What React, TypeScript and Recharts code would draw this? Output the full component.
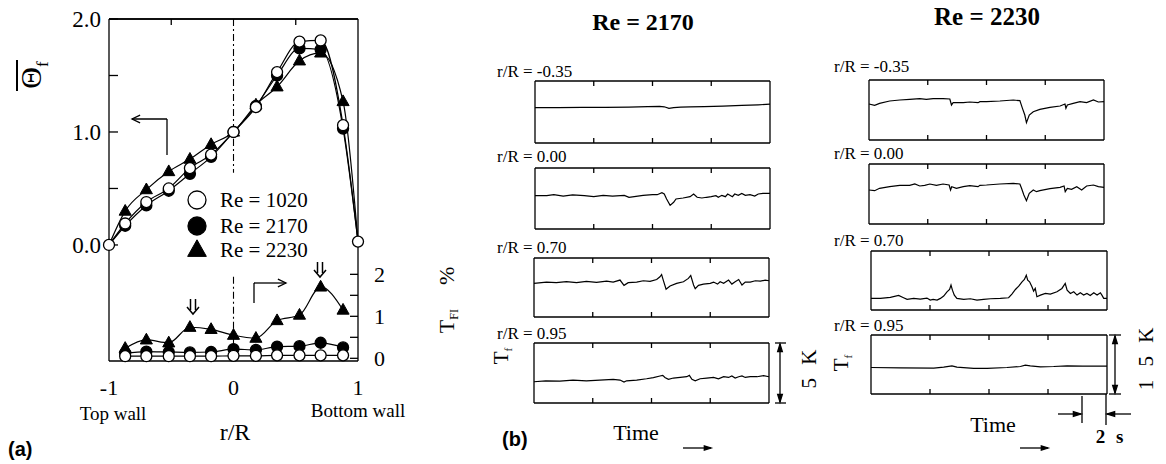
import React from 'react';
import { LineChart, Line, XAxis, YAxis, ReferenceLine, Legend } from 'recharts';

const SERIF = '"Liberation Serif", "Times New Roman", serif';
const SANS = '"Liberation Sans", Arial, sans-serif';

// ---------- Panel (a) data ----------
const rPos = [-1, -0.87, -0.7, -0.52, -0.35, -0.18, 0, 0.18, 0.35, 0.53, 0.7, 0.88, 1.0];
const theta1020 = [0, 0.19, 0.38, 0.5, 0.68, 0.8, 1.0, 1.22, 1.53, 1.8, 1.81, 1.06, 0.03];
const theta2170 = [0, 0.17, 0.35, 0.48, 0.63, 0.78, 1.0, 1.23, 1.5, 1.74, 1.73, 1.03, 0.03];
const theta2230 = [0, 0.3, 0.49, 0.65, 0.76, 0.89, 1.0, 1.24, 1.4, 1.63, 1.7, 1.27, 0.03];
const tfi1020 = [null, 0.05, 0.05, 0.05, 0.05, 0.05, 0.06, 0.06, 0.07, 0.07, 0.07, 0.07, null];
const tfi2170 = [null, 0.12, 0.16, 0.15, 0.14, 0.15, 0.22, 0.2, 0.28, 0.29, 0.37, 0.26, null];
const tfi2230 = [null, 0.24, 0.44, 0.37, 0.74, 0.69, 0.55, 0.48, 0.9, 1.03, 1.7, 1.15, null];
const reLabels = ['Re = 1020', 'Re = 2170', 'Re = 2230'];
const leftTicks = [0, 0.5, 1, 1.5, 2];
const rightTicks = [0, 0.5, 1, 1.5, 2];
const bottomTicks = [-1, 0, 1];

// ---------- Panel (b) data: time traces (t in % of record, value in K) ----------
const t2170_m035 = [0, 10, 20, 30, 40, 48, 53, 55, 57, 59, 62, 66, 72, 80, 88, 95, 100];
const k2170_m035 = [2.86, 2.86, 2.87, 2.88, 2.9, 2.93, 2.95, 2.92, 2.8, 2.86, 2.9, 2.92, 2.94, 2.98, 3.03, 3.08, 3.13];
const t2170_000 = [0, 5, 8, 12, 16, 21, 25, 29, 33, 38, 40, 43, 46, 50, 52, 54, 55, 56, 57.5, 59, 60, 63, 66, 67.5, 69, 71, 73, 75, 77, 78, 79.5, 81, 82, 84, 85, 86.5, 88, 89.5, 91.5, 93.5, 95, 97, 100];
const k2170_000 = [2.73, 2.73, 2.81, 2.7, 2.79, 2.73, 2.65, 2.76, 2.7, 2.76, 2.6, 2.68, 2.76, 2.81, 2.81, 2.98, 2.87, 2.46, 1.94, 2.19, 2.46, 2.54, 2.65, 2.87, 2.6, 2.54, 2.6, 2.65, 2.73, 2.6, 2.76, 2.65, 2.87, 2.65, 2.87, 2.76, 2.92, 2.76, 2.81, 2.7, 2.87, 2.92, 2.92];
const t2170_070 = [0, 5.3, 9.5, 13.8, 18.1, 22.3, 26.6, 30.9, 33.7, 36.6, 38.3, 40.1, 43.7, 46.5, 49.4, 52.2, 53.6, 54.3, 55.0, 56.2, 57.9, 60.7, 63.6, 65.7, 66.7, 67.9, 68.6, 70.0, 72.1, 75.0, 76.4, 78.1, 79.2, 80.7, 82.8, 84.2, 85.6, 87.1, 88.5, 89.9, 92.0, 94.2, 96.3, 98.4, 100];
const k2170_070 = [2.85, 2.96, 2.91, 2.99, 2.91, 3.02, 2.93, 3.04, 2.96, 3.13, 2.68, 2.91, 2.96, 3.07, 3.02, 3.18, 3.41, 3.6, 3.13, 2.35, 2.63, 2.85, 2.99, 3.27, 3.52, 2.71, 2.4, 2.68, 2.79, 2.85, 2.96, 2.79, 2.99, 2.85, 3.13, 2.79, 2.99, 3.18, 2.71, 2.96, 2.96, 3.07, 3.04, 3.13, 3.07];
const t2170_095 = [0, 5, 11, 16.6, 22.3, 28, 33.7, 36.6, 38.3, 39.4, 43.7, 47.9, 50.8, 53.6, 54.8, 55.7, 57.2, 59.3, 62.2, 65, 66.1, 67.2, 68.6, 70.7, 73.5, 76.4, 78.5, 80.7, 82.8, 84.2, 85.6, 87.1, 88.5, 89.9, 92, 94.9, 97.7, 100];
const k2170_095 = [1.77, 1.85, 1.83, 1.91, 1.85, 1.91, 1.97, 1.91, 1.74, 1.85, 1.91, 2.02, 2.11, 2.25, 2.3, 2.13, 1.97, 2.08, 2.13, 2.19, 2.3, 1.97, 1.85, 2.02, 2.08, 2.13, 2.02, 2.19, 2.13, 2.25, 2.08, 2.19, 2.25, 2.13, 2.19, 2.19, 2.28, 2.19];

const t2230_m035 = [0, 2.4, 4.5, 8.8, 13.1, 17.3, 21.6, 24.4, 27.3, 31.5, 34.4, 35.1, 35.8, 40.1, 42.9, 46.4, 47.2, 50, 55.7, 61.4, 64.2, 65.3, 66.3, 67, 68.2, 69.9, 72.7, 77, 81.3, 83.4, 83.8, 84.4, 86.9, 89.8, 92.6, 95.5, 97.6, 100];
const k2230_m035 = [9.0, 8.67, 9.17, 9.75, 10.0, 10.17, 10.33, 10.17, 10.33, 10.33, 10.25, 8.75, 9.33, 9.33, 9.5, 9.33, 9.58, 9.58, 9.75, 10.0, 9.83, 7.92, 6.25, 4.33, 6.25, 7.08, 7.67, 8.17, 8.5, 9.0, 7.92, 8.75, 9.17, 9.58, 9.33, 10.0, 9.5, 9.58];
const t2230_000 = [0, 2.4, 4.5, 8.8, 13.1, 17.3, 19.5, 21.6, 23.7, 25.9, 28.7, 31.5, 34.1, 34.7, 35.2, 37.2, 40.1, 42.9, 46.4, 47.2, 50, 55.7, 61.4, 64.2, 64.9, 65.9, 67, 68.2, 69.9, 71.3, 72.7, 77, 81.3, 83, 83.5, 84.4, 86.2, 88.4, 90.5, 92.6, 95.5, 97.6, 100];
const k2230_000 = [8.5, 8.33, 8.92, 9.33, 9.67, 9.67, 10.0, 9.5, 9.67, 10.0, 9.67, 10.0, 9.75, 8.5, 9.33, 8.92, 9.33, 9.58, 9.33, 9.67, 9.75, 10.0, 10.17, 10.0, 8.92, 7.25, 5.83, 7.67, 8.5, 8.08, 8.33, 8.83, 9.17, 9.5, 8.08, 8.92, 8.67, 9.33, 8.5, 9.5, 9.75, 9.33, 9.17];
const t2230_070 = [0, 4, 8.2, 11.7, 13.8, 15.3, 18.1, 20.9, 23.7, 25.1, 26.3, 28, 29.4, 30.8, 32.2, 33.3, 33.9, 34.5, 35.3, 36.4, 39.3, 42.1, 44.9, 47.7, 50.6, 54.8, 58.3, 59.7, 61.2, 62.6, 64, 65, 65.8, 66.4, 67.2, 68.2, 68.9, 69.6, 70.3, 71.8, 73.9, 76, 78.8, 80.9, 82.3, 83.1, 84.5, 85.9, 87.3, 88.7, 90.1, 91.5, 92.9, 94.4, 95.8, 97.2, 97.9, 98.6, 100];
const k2230_070 = [2.95, 2.95, 3.2, 3.71, 3.12, 2.7, 2.95, 2.78, 3.03, 2.53, 2.7, 2.53, 2.95, 3.54, 4.63, 5.22, 6.32, 5.05, 3.79, 2.95, 2.7, 2.86, 2.53, 2.7, 2.86, 2.95, 3.12, 4.04, 5.22, 6.07, 7.16, 7.75, 8.85, 7.58, 7.16, 5.9, 4.8, 5.48, 3.37, 3.79, 4.21, 4.04, 4.63, 5.48, 6.74, 5.05, 4.21, 4.63, 3.79, 4.38, 3.79, 4.21, 3.71, 4.38, 3.79, 4.38, 3.71, 2.95, 2.95];
const t2230_095 = [0, 12.4, 26.6, 30.8, 34.3, 36.4, 43.5, 49.2, 57.6, 63.3, 65.4, 67.5, 71.8, 77.4, 83.1, 89.8, 100];
const k2230_095 = [6.74, 6.66, 6.57, 6.82, 7.16, 6.82, 6.49, 6.49, 6.74, 6.99, 7.33, 7.16, 6.91, 6.99, 7.16, 7.08, 7.08];

const posLabels = ['r/R = -0.35', 'r/R = 0.00', 'r/R = 0.70', 'r/R = 0.95'];
const timeTicks = [25, 50, 75];

// ---------- helpers ----------
type Kind = 'open' | 'filled' | 'tri';

function Marker({ kind, cx, cy, r }: { kind: Kind; cx: number; cy: number; r: number }) {
  if (kind === 'tri') {
    const pts = `${cx},${cy - r * 1.2} ${cx - r * 1.1},${cy + r * 0.75} ${cx + r * 1.1},${cy + r * 0.75}`;
    return <polygon points={pts} fill="#000" stroke="#000" strokeWidth={1} />;
  }
  return (
    <circle cx={cx} cy={cy} r={r} fill={kind === 'open' ? '#fff' : '#000'} stroke="#000" strokeWidth={1.3} />
  );
}

const makeDot = (kind: Kind, skipEnds: boolean, r = 5.5) => (props: any) => {
  const { cx, cy, index, dataKey } = props;
  const key = `${kind}-${dataKey}-${index}`;
  if (cx == null || cy == null || Number.isNaN(cy) || (skipEnds && (index === 0 || index === rPos.length - 1))) {
    return <g key={key} />;
  }
  return (
    <g key={key}>
      <Marker kind={kind} cx={cx} cy={cy} r={r} />
    </g>
  );
};

const panelAData = rPos.map((r, i) => ({
  r,
  th1020: theta1020[i],
  th2170: theta2170[i],
  th2230: theta2230[i],
  tf1020: tfi1020[i],
  tf2170: tfi2170[i],
  tf2230: tfi2230[i],
}));

function LegendBox() {
  const kinds: Kind[] = ['open', 'filled', 'tri'];
  const ys = [12, 38, 62];
  return (
    <svg width={150} height={80} style={{ overflow: 'visible' }}>
      {kinds.map((k, i) => (
        <g key={k}>
          <Marker kind={k} cx={11} cy={ys[i]} r={k === 'tri' ? 8.5 : 9} />
          <text x={34} y={ys[i] + 7} fontFamily={SERIF} fontSize={21} fill="#000">
            {reLabels[i]}
          </text>
        </g>
      ))}
    </svg>
  );
}

function PanelA() {
  const ax = { stroke: '#000', strokeWidth: 1.3 };
  return (
    <div style={{ position: 'absolute', left: 0, top: 0 }}>
      <LineChart width={420} height={464} data={panelAData} margin={{ top: 18, right: 12, bottom: 73, left: 49 }}>
        <XAxis
          xAxisId="b"
          dataKey="r"
          type="number"
          domain={[-1, 1]}
          ticks={bottomTicks}
          tickFormatter={(v: number) => String(v)}
          axisLine={ax}
          tickLine={false}
          height={30}
          tickMargin={12}
          tick={{ fill: '#000', fontSize: 22, fontFamily: SERIF }}
        />
        <XAxis
          xAxisId="t"
          orientation="top"
          dataKey="r"
          type="number"
          domain={[-1, 1]}
          ticks={[-0.5, 0.5]}
          height={1}
          tickSize={-6}
          tickFormatter={() => ''}
          axisLine={ax}
          tickLine={ax}
        />
        <YAxis
          yAxisId="L"
          type="number"
          domain={[-1.027, 2]}
          ticks={leftTicks}
          tickFormatter={(v: number) => (v % 1 === 0 ? v.toFixed(1) : '')}
          width={60}
          tickSize={-9}
          tickMargin={17}
          axisLine={ax}
          tickLine={ax}
          tick={{ fill: '#000', fontSize: 23, fontFamily: SERIF }}
        />
        <YAxis
          yAxisId="R"
          orientation="right"
          type="number"
          domain={[-0.064, 8.08]}
          ticks={rightTicks}
          tickFormatter={(v: number) => (v % 1 === 0 ? String(v) : '')}
          width={50}
          tickSize={-8}
          tickMargin={24}
          axisLine={ax}
          tickLine={ax}
          tick={{ fill: '#000', fontSize: 22, fontFamily: SERIF }}
        />
        <ReferenceLine xAxisId="b" yAxisId="L" y={2} stroke="#000" strokeWidth={1.3} />
        <ReferenceLine
          xAxisId="b"
          yAxisId="L"
          segment={[{ x: 0, y: 2 }, { x: 0, y: 0.64 }]}
          stroke="#000"
          strokeWidth={1.1}
          strokeDasharray="7 3 2 3"
        />
        <ReferenceLine
          xAxisId="b"
          yAxisId="R"
          segment={[{ x: 0, y: 1.94 }, { x: 0, y: 0 }]}
          stroke="#000"
          strokeWidth={1.1}
          strokeDasharray="7 3 2 3"
        />
        <Line xAxisId="b" yAxisId="L" dataKey="th2230" type="monotone" stroke="#000" strokeWidth={1.2} dot={makeDot('tri', true)} isAnimationActive={false} />
        <Line xAxisId="b" yAxisId="L" dataKey="th2170" type="monotone" stroke="#000" strokeWidth={1.2} dot={makeDot('filled', true)} isAnimationActive={false} />
        <Line xAxisId="b" yAxisId="L" dataKey="th1020" type="monotone" stroke="#000" strokeWidth={1.2} dot={makeDot('open', false)} isAnimationActive={false} />
        <Line xAxisId="b" yAxisId="R" dataKey="tf2230" type="monotone" stroke="#000" strokeWidth={1.2} dot={makeDot('tri', false)} isAnimationActive={false} />
        <Line xAxisId="b" yAxisId="R" dataKey="tf2170" type="monotone" stroke="#000" strokeWidth={1.2} dot={makeDot('filled', false)} isAnimationActive={false} />
        <Line xAxisId="b" yAxisId="R" dataKey="tf1020" type="monotone" stroke="#000" strokeWidth={1.2} dot={makeDot('open', false)} isAnimationActive={false} />
        <Legend
          layout="horizontal"
          verticalAlign="middle"
          align="center"
          wrapperStyle={{ left: 186, top: 188, width: 150, height: 80 }}
          content={() => <LegendBox />}
        />
      </LineChart>
    </div>
  );
}

function Trace({ left, top, w, h, t, k, ymax }: { left: number; top: number; w: number; h: number; t: number[]; k: number[]; ymax: number }) {
  const data = t.map((x, i) => ({ t: x, k: k[i] }));
  const pad = 8;
  const ax = { stroke: '#000', strokeWidth: 1.3 };
  return (
    <div style={{ position: 'absolute', left: left - pad, top: top - pad }}>
      <LineChart width={w + 2 * pad} height={h + 2 * pad} data={data} margin={{ top: pad - 1, right: pad - 1, bottom: pad - 1, left: pad - 1 }}>
        <XAxis xAxisId="b" dataKey="t" type="number" domain={[0, 100]} ticks={timeTicks} height={1} tickSize={-5} tickFormatter={() => ''} axisLine={ax} tickLine={ax} />
        <XAxis xAxisId="t" orientation="top" dataKey="t" type="number" domain={[0, 100]} ticks={timeTicks} height={1} tickSize={-5} tickFormatter={() => ''} axisLine={ax} tickLine={ax} />
        <YAxis yAxisId="l" type="number" domain={[0, ymax]} width={1} tickLine={false} tickFormatter={() => ''} axisLine={ax} />
        <YAxis yAxisId="r" orientation="right" type="number" domain={[0, ymax]} width={1} tickLine={false} tickFormatter={() => ''} axisLine={ax} />
        <Line xAxisId="b" yAxisId="l" dataKey="k" type="linear" dot={false} stroke="#000" strokeWidth={1.2} isAnimationActive={false} />
      </LineChart>
    </div>
  );
}

function Arrow({ x1, y1, x2, y2, head = 7 }: { x1: number; y1: number; x2: number; y2: number; head?: number }) {
  const ang = Math.atan2(y2 - y1, x2 - x1);
  const a1 = ang + Math.PI - 0.45;
  const a2 = ang + Math.PI + 0.45;
  return (
    <g stroke="#000" strokeWidth={1.3} fill="none">
      <line x1={x1} y1={y1} x2={x2} y2={y2} />
      <polyline points={`${x2 + head * Math.cos(a1)},${y2 + head * Math.sin(a1)} ${x2},${y2} ${x2 + head * Math.cos(a2)},${y2 + head * Math.sin(a2)}`} />
    </g>
  );
}

function SolidArrow({ x1, y1, x2, y2, head = 8 }: { x1: number; y1: number; x2: number; y2: number; head?: number }) {
  const ang = Math.atan2(y2 - y1, x2 - x1);
  const a1 = ang + Math.PI - 0.3;
  const a2 = ang + Math.PI + 0.3;
  return (
    <g stroke="#000" strokeWidth={1.3}>
      <line x1={x1} y1={y1} x2={x2} y2={y2} />
      <polygon fill="#000" points={`${x2 + head * Math.cos(a1)},${y2 + head * Math.sin(a1)} ${x2},${y2} ${x2 + head * Math.cos(a2)},${y2 + head * Math.sin(a2)}`} />
    </g>
  );
}

function DoubleDown({ x, y }: { x: number; y: number }) {
  return (
    <g stroke="#000" strokeWidth={1.5} fill="none">
      <line x1={x - 2.5} y1={y} x2={x - 2.5} y2={y + 11} />
      <line x1={x + 2.5} y1={y} x2={x + 2.5} y2={y + 11} />
      <polyline points={`${x - 6},${y + 8} ${x},${y + 15} ${x + 6},${y + 8}`} />
    </g>
  );
}

function Overlay() {
  const txt = { fontFamily: SERIF, fill: '#000' } as const;
  return (
    <svg width={1166} height={464} style={{ position: 'absolute', left: 0, top: 0, pointerEvents: 'none' }}>
      {/* Panel (a) labels */}
      <line x1={17} y1={60} x2={17} y2={91} stroke="#000" strokeWidth={2} />
      <text transform="translate(41,75) rotate(-90)" textAnchor="middle" fontSize={30} {...txt}>
        Θ<tspan fontSize={17} dy={7}>f</tspan>
      </text>
      <text transform="translate(454,300) rotate(-90)" textAnchor="middle" fontSize={22} {...txt}>
        T<tspan fontSize={12} dy={4}>FI</tspan>
        <tspan dx={24} dy={-4}>%</tspan>
      </text>
      <text x={113} y={420} textAnchor="middle" fontSize={19} {...txt}>Top wall</text>
      <text x={358} y={417} textAnchor="middle" fontSize={19} {...txt}>Bottom wall</text>
      <text x={235} y={440} textAnchor="middle" fontSize={24} {...txt}>r/R</text>
      <text x={8} y={456} fontSize={20} fontWeight="bold" fontFamily={SANS} fill="#000">(a)</text>
      <Arrow x1={167} y1={119} x2={132} y2={119} head={9} />
      <line x1={167} y1={119} x2={167} y2={155} stroke="#000" strokeWidth={1.3} />
      <line x1={254} y1={303} x2={254} y2={283} stroke="#000" strokeWidth={1.3} />
      <Arrow x1={254} y1={283} x2={286} y2={283} head={9} />
      <DoubleDown x={193} y={299} />
      <DoubleDown x={320} y={262} />

      {/* Panel (b) labels */}
      <text x={643} y={30} textAnchor="middle" fontSize={24} fontWeight="bold" {...txt}>Re = 2170</text>
      <text x={987} y={25} textAnchor="middle" fontSize={25} fontWeight="bold" {...txt}>Re = 2230</text>
      {[77, 162, 253, 339].map((y, i) => (
        <text key={'l' + i} x={497} y={y} fontSize={17} {...txt}>{posLabels[i]}</text>
      ))}
      {[72, 159, 246, 331].map((y, i) => (
        <text key={'r' + i} x={834} y={y} fontSize={17} {...txt}>{posLabels[i]}</text>
      ))}
      <text transform="translate(508,356) rotate(-90)" textAnchor="middle" fontSize={21} {...txt}>
        T<tspan fontSize={11} dy={4}>f</tspan>
      </text>
      <text transform="translate(848,363) rotate(-90)" textAnchor="middle" fontSize={21} {...txt}>
        T<tspan fontSize={11} dy={4}>f</tspan>
      </text>
      {/* 5 K bracket */}
      <g stroke="#000" strokeWidth={1.3}>
        <line x1={775} y1={343} x2={786} y2={343} />
        <line x1={775} y1={403} x2={786} y2={403} />
      </g>
      <SolidArrow x1={780} y1={373} x2={780} y2={344} head={8} />
      <SolidArrow x1={780} y1={373} x2={780} y2={402} head={8} />
      <text transform="translate(816,367) rotate(-90)" textAnchor="middle" fontSize={21} letterSpacing={4} {...txt}>5 K</text>
      {/* 15 K bracket */}
      <g stroke="#000" strokeWidth={1.3}>
        <line x1={1109} y1={335} x2={1121} y2={335} />
        <line x1={1109} y1={394} x2={1121} y2={394} />
      </g>
      <SolidArrow x1={1115} y1={365} x2={1115} y2={336} head={8} />
      <SolidArrow x1={1115} y1={365} x2={1115} y2={393} head={8} />
      <text transform="translate(1153,357) rotate(-90)" textAnchor="middle" fontSize={21} letterSpacing={4} {...txt}>1 5 K</text>
      {/* Time labels */}
      <text x={636} y={440} textAnchor="middle" fontSize={22} {...txt}>Time</text>
      <SolidArrow x1={683} y1={448} x2={711} y2={448} head={7} />
      <text x={993} y={432} textAnchor="middle" fontSize={22} {...txt}>Time</text>
      <SolidArrow x1={1020} y1={448} x2={1048} y2={448} head={7} />
      {/* 2 s marker */}
      <g stroke="#000" strokeWidth={1.3}>
        <line x1={1082} y1={396} x2={1082} y2={423} />
        <line x1={1106} y1={394} x2={1106} y2={425} />
      </g>
      <SolidArrow x1={1058} y1={414} x2={1081} y2={414} head={8} />
      <SolidArrow x1={1131} y1={414} x2={1107} y2={414} head={8} />
      <text x={1111} y={443} textAnchor="middle" fontSize={19} fontWeight="bold" letterSpacing={3} {...txt}>2 s</text>
      <text x={502} y={446} fontSize={20} fontWeight="bold" fontFamily={SANS} fill="#000">(b)</text>
    </svg>
  );
}

export default function App() {
  return (
    <div style={{ position: 'relative', width: 1166, height: 464, background: '#fff', overflow: 'hidden' }}>
      <style>{'body{margin:0;background:#fff;}'}</style>
      <PanelA />
      <Trace left={535} top={81} w={235} h={62} t={t2170_m035} k={k2170_m035} ymax={5} />
      <Trace left={535} top={168} w={235} h={61} t={t2170_000} k={k2170_000} ymax={5} />
      <Trace left={534} top={258} w={235} h={59} t={t2170_070} k={k2170_070} ymax={5} />
      <Trace left={534} top={343} w={235} h={60} t={t2170_095} k={k2170_095} ymax={5} />
      <Trace left={869} top={80} w={235} h={60} t={t2230_m035} k={k2230_m035} ymax={15} />
      <Trace left={869} top={164} w={235} h={60} t={t2230_000} k={k2230_000} ymax={15} />
      <Trace left={871} top={251} w={236} h={59} t={t2230_070} k={k2230_070} ymax={15} />
      <Trace left={871} top={335} w={236} h={59} t={t2230_095} k={k2230_095} ymax={15} />
      <Overlay />
    </div>
  );
}
